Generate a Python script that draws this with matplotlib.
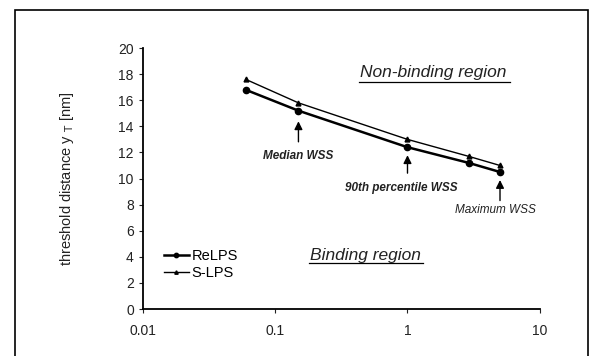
import numpy as np
import matplotlib.pyplot as plt
from matplotlib.patches import Rectangle

plt.rcParams['font.family'] = ['Liberation Sans', 'DejaVu Sans']

# data
wss = [0.06, 0.15, 1.0, 2.9, 5.0]
relps = [16.8, 15.2, 12.4, 11.2, 10.5]
slps = [17.6, 15.8, 13.0, 11.7, 11.0]

x_ticks = [0.01, 0.1, 1, 10]
x_ticklabels = ["0.01", "0.1", "1", "10"]
y_ticks = list(range(0, 21, 2))

# arrows: (x, y_tail, y_head), labels: (text, x, y, weight)
arrows = [(0.15, 12.6, 14.6), (1.0, 10.2, 12.0), (5.0, 8.1, 10.1)]
arrow_labels = [("Median WSS", 0.15, 11.7, "bold"),
                ("90th percentile WSS", 0.9, 9.3, "bold"),
                ("Maximum WSS", 4.6, 7.6, "normal")]

fig = plt.figure(figsize=(5.9, 3.56), dpi=100)
ax = fig.add_axes([0.242, 0.132, 0.673, 0.733])

ax.plot(wss, relps, color="black", lw=1.8, marker="o", ms=4.5, label="ReLPS")
ax.plot(wss, slps, color="black", lw=1.0, marker="^", ms=3.5, label="S-LPS")

ax.set_xscale("log")
ax.set_xlim(0.01, 10)
ax.set_ylim(0, 20)
ax.set_xticks(x_ticks)
ax.set_xticklabels(x_ticklabels)
ax.minorticks_off()
ax.set_yticks(y_ticks)
ax.tick_params(axis="both", labelsize=10, direction="out", length=3, width=0.8,
               colors="#222222")
ax.tick_params(axis="x", pad=8)
for s in ["top", "right"]:
    ax.spines[s].set_visible(False)
ax.spines["left"].set_linewidth(1.3)
ax.spines["bottom"].set_linewidth(1.3)

ax.set_ylabel(r"threshold distance y $_{\mathrm{T}}$ [nm]", fontsize=10.5,
              labelpad=30, color="#222222")

for x, y0, y1 in arrows:
    ax.annotate("", xy=(x, y1), xytext=(x, y0),
                arrowprops=dict(arrowstyle="-|>", color="black", lw=1.0, mutation_scale=12))
for txt, x, y, w in arrow_labels:
    ax.text(x, y, txt, fontsize=8.5, style="italic", weight=w, ha="center",
            va="center", color="#222222")

ax.text(1.57, 18.1, "Non-binding region", fontsize=12.5, style="italic",
        ha="center", va="center", color="#222222")
ax.plot([0.43, 5.9], [17.4, 17.4], color="black", lw=0.9, clip_on=False)
ax.text(0.48, 4.1, "Binding region", fontsize=12.5, style="italic",
        ha="center", va="center", color="#222222")
ax.plot([0.18, 1.3], [3.5, 3.5], color="black", lw=0.9, clip_on=False)

ax.legend(loc="center left", bbox_to_anchor=(0.02, 0.17), frameon=False, fontsize=10.5,
          handlelength=1.7, handletextpad=0.2, labelspacing=0.25, markerscale=0.7)

fig.patches.append(Rectangle((15 / 590, -0.01), 573 / 590, 1 - 10 / 356 + 0.01,
                             transform=fig.transFigure, fill=False, lw=1.2,
                             edgecolor="black"))

fig.savefig("out.png", dpi=100)
